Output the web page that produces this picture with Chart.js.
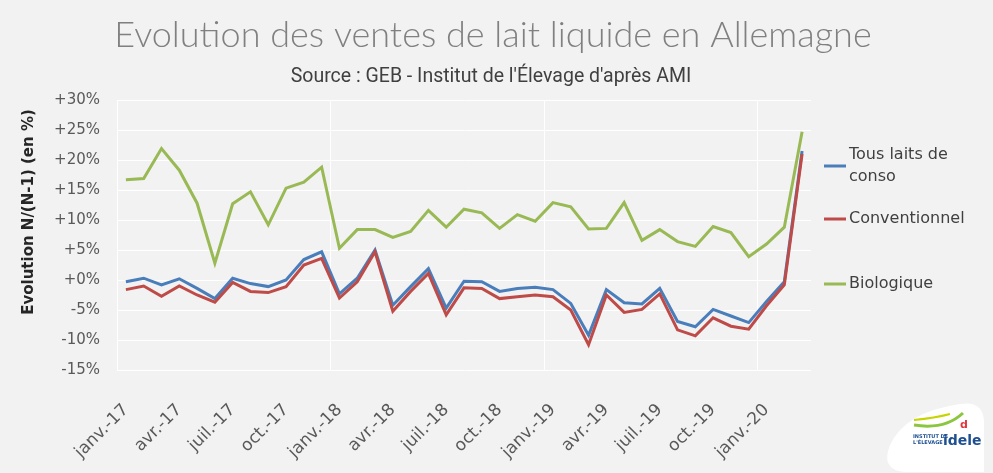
<!DOCTYPE html>
<html>
<head>
<meta charset="utf-8">
<script src="https://cdn.jsdelivr.net/npm/chart.js@4.4.1/dist/chart.umd.min.js"></script>
<style>
  html, body { margin: 0; padding: 0; background: #f2f2f2; }
</style>
</head>
<body>
<canvas id="myChart" width="993" height="473"></canvas>
<script>
// donnees (evolution N/N-1 en %)
const moisLabels = [
  'janv.-17','févr.-17','mars-17','avr.-17','mai-17','juin-17','juil.-17','août-17','sept.-17','oct.-17','nov.-17','déc.-17',
  'janv.-18','févr.-18','mars-18','avr.-18','mai-18','juin-18','juil.-18','août-18','sept.-18','oct.-18','nov.-18','déc.-18',
  'janv.-19','févr.-19','mars-19','avr.-19','mai-19','juin-19','juil.-19','août-19','sept.-19','oct.-19','nov.-19','déc.-19',
  'janv.-20','févr.-20','mars-20'
]

const tousLaits = [
  -0.3, 0.3, -0.8, 0.2, -1.4, -3.1, 0.3, -0.6, -1.1, 0.0, 3.4, 4.7,
  -2.3, 0.3, 5.0, -4.2, -1.1, 1.9, -4.7, -0.2, -0.3, -1.9, -1.4, -1.2,
  -1.6, -3.9, -9.2, -1.6, -3.8, -4.0, -1.4, -6.9, -7.8, -4.9, -6.0, -7.1,
  -3.6, -0.3, 21.5
]

const conventionnel = [
  -1.6, -1.0, -2.7, -1.0, -2.5, -3.7, -0.4, -1.9, -2.1, -1.1, 2.5, 3.6,
  -3.0, -0.3, 4.7, -5.2, -1.9, 1.1, -5.8, -1.3, -1.4, -3.1, -2.8, -2.5,
  -2.8, -5.0, -10.8, -2.5, -5.4, -4.9, -2.3, -8.3, -9.3, -6.3, -7.7, -8.2,
  -4.3, -0.8, 21.0
]

const biologique = [
  16.7, 16.9, 21.9, 18.3, 12.8, 2.8, 12.7, 14.7, 9.2, 15.3, 16.3, 18.8,
  5.3, 8.4, 8.4, 7.1, 8.1, 11.6, 8.8, 11.8, 11.2, 8.6, 10.9, 9.8,
  12.9, 12.2, 8.5, 8.6, 12.9, 6.6, 8.4, 6.4, 5.6, 8.9, 7.9, 3.9,
  6.0, 8.8, 24.7
]

const seriesNoms = ['Tous laits de conso', 'Conventionnel', 'Biologique']
const yTicks = [-15, -10, -5, 0, 5, 10, 15, 20, 25, 30]

const couleurs = ['#4a7ebb', '#be4b48', '#98b954']

// titre, legende, logo dessines a la main
const decor = {
  id: 'decor',
  beforeDraw(chart) {
    const ctx = chart.ctx
    ctx.save()
    ctx.fillStyle = '#f2f2f2'
    ctx.fillRect(0, 0, chart.width, chart.height)
    ctx.restore()
  },
  afterDraw(chart) {
    const ctx = chart.ctx
    ctx.save()

    ctx.textAlign = 'center'
    ctx.textBaseline = 'alphabetic'
    ctx.fillStyle = '#808080'
    ctx.font = '300 36px Lato, "DejaVu Sans"'
    ctx.fillText('Evolution des ventes de lait liquide en Allemagne', 493, 47)

    ctx.fillStyle = '#404040'
    ctx.font = '19.5px Roboto, "DejaVu Sans"'
    ctx.fillText("Source : GEB - Institut de l'Élevage d'après AMI", 491, 82)

    // titre axe y
    ctx.save()
    ctx.translate(29, 212)
    ctx.rotate(-Math.PI / 2)
    ctx.fillStyle = '#262626'
    ctx.font = 'bold 15px "DejaVu Sans"'
    ctx.textBaseline = 'middle'
    ctx.fillText('Evolution N/(N-1) (en %)', 0, 0)
    ctx.restore()

    // legende
    const legende = [
      { lignes: ['Tous laits de', 'conso'], y: 166 },
      { lignes: ['Conventionnel'], y: 219 },
      { lignes: ['Biologique'], y: 284 }
    ]
    ctx.font = '16px "DejaVu Sans"'
    ctx.textAlign = 'left'
    ctx.textBaseline = 'middle'
    legende.forEach((item, i) => {
      ctx.strokeStyle = couleurs[i]
      ctx.lineWidth = 3
      ctx.beginPath()
      ctx.moveTo(824, item.y)
      ctx.lineTo(846, item.y)
      ctx.stroke()
      ctx.fillStyle = '#404040'
      const h = 22
      const y0 = item.y - (item.lignes.length - 1) * h / 2
      item.lignes.forEach((t, k) => ctx.fillText(t, 849, y0 + k * h))
    })

    // logo idele
    ctx.fillStyle = '#ffffff'
    ctx.beginPath()
    ctx.moveTo(905, 472)
    ctx.quadraticCurveTo(880, 470, 890, 445)
    ctx.quadraticCurveTo(905, 412, 960, 404)
    ctx.quadraticCurveTo(985, 400, 984, 425)
    ctx.lineTo(984, 472)
    ctx.closePath()
    ctx.fill()
    ctx.strokeStyle = '#8cc63f'
    ctx.lineWidth = 3
    ctx.beginPath()
    ctx.moveTo(914, 425)
    ctx.quadraticCurveTo(945, 430, 963, 413)
    ctx.stroke()
    ctx.strokeStyle = '#c8d400'
    ctx.lineWidth = 2
    ctx.beginPath()
    ctx.moveTo(914, 420)
    ctx.quadraticCurveTo(935, 418, 950, 414)
    ctx.stroke()
    ctx.fillStyle = '#1d4f91'
    ctx.font = 'bold 5px "DejaVu Sans"'
    ctx.fillText('INSTITUT DE', 913, 437)
    ctx.fillText("L'ÉLEVAGE", 913, 443)
    ctx.font = 'bold 14px "DejaVu Sans"'
    ctx.fillText('idele', 943, 441)
    ctx.fillStyle = '#e2373f'
    ctx.font = 'bold 11px "DejaVu Sans"'
    ctx.fillText('d', 960, 425)

    ctx.restore()
  }
}

const ctx = document.getElementById('myChart').getContext('2d')

new Chart(ctx, {
  type: 'line',
  data: {
    labels: moisLabels,
    datasets: [
      { label: seriesNoms[0], data: tousLaits, borderColor: couleurs[0], order: 2 },
      { label: seriesNoms[1], data: conventionnel, borderColor: couleurs[1], order: 1 },
      { label: seriesNoms[2], data: biologique, borderColor: couleurs[2], order: 0 }
    ]
  },
  options: {
    responsive: false,
    animation: false,
    devicePixelRatio: 1,
    layout: { padding: { top: 100, right: 182, bottom: 0, left: 0 } },
    elements: {
      line: { borderWidth: 3, tension: 0, fill: false },
      point: { radius: 0, hoverRadius: 0 }
    },
    plugins: {
      legend: { display: false },
      title: { display: false },
      tooltip: { enabled: false }
    },
    scales: {
      x: {
        offset: true,
        grid: {
          offset: true,
          drawTicks: false,
          color: c => (c.index % 12 === 0 ? '#ffffff' : 'rgba(0,0,0,0)'),
          lineWidth: 1
        },
        border: { display: false },
        ticks: {
          autoSkip: false,
          minRotation: 45,
          maxRotation: 45,
          padding: 30,
          color: '#595959',
          font: { family: 'DejaVu Sans', size: 17 },
          callback: function (v, i) { return i % 3 === 0 ? this.getLabelForValue(v) : '' }
        },
        afterFit: s => { s.height = 103 }
      },
      y: {
        min: -15,
        max: 30,
        afterBuildTicks: s => { s.ticks = yTicks.map(v => ({ value: v })) },
        grid: { color: '#ffffff', lineWidth: 1, drawTicks: false },
        border: { display: true, color: '#ffffff', width: 1 },
        ticks: {
          padding: 17,
          color: '#595959',
          font: { family: 'DejaVu Sans', size: 15 },
          callback: v => (v >= 0 ? '+' : '') + v + '%'
        },
        afterFit: s => { s.width = 117 }
      }
    }
  },
  plugins: [decor]
})
</script>
</body>
</html>
